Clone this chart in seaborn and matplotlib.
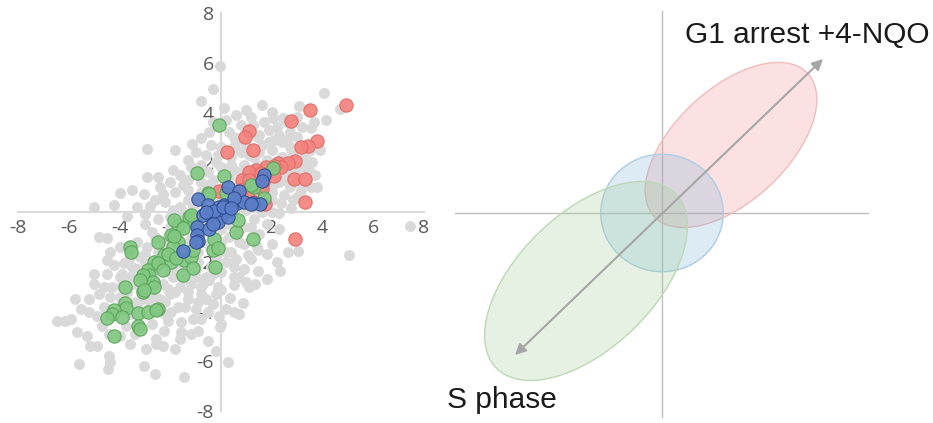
import matplotlib
matplotlib.use('Agg')
import matplotlib.pyplot as plt
from matplotlib.patches import Ellipse
import seaborn as sns

# ------------------------------
# Scatter data
# ------------------------------
gray_x = [-0.04, -0.31, -0.78, 3.06, 4.04, 4.7, 1.6, 2.0,
          -0.47, 0.31, 1.25, 2.04, 2.43, 3.53, 4.12, 3.65, 1.5, 2.7, 3.0, 0.8, 1.9, 2.3,
          -0.78, -1.14, -2.9, -1.29, -0.6, 0.0, 0.6, 1.0, 1.6, 2.0, 2.4, 2.8, 3.3, 3.92, 0.4, 1.3, 1.8, -0.2, -1.0, 2.4, 0.8,
          -1.6, -1.2, -0.5, 0.0, 0.5, 0.9, 1.4, 2.0, 2.6, 3.0, 3.5, -2.0, -1.5, -0.8, -0.3, 0.3, 0.7, 1.2, 1.9, 2.3, 2.7, 3.3, 3.7, -1.0, 0.1, 1.7,
          -4.0, -3.02, -2.27, -5.02, -2.78, -1.8, -1.3, -1.6, -0.8, -0.4, 0.3, 0.8, 1.5, 2.0, 2.35, 2.82, 3.14, 3.53, 2.75, 2.27, -2.2, -1.1, 0.5, 1.0, 1.8, -0.6,
          -3.69, -3.0, -2.5, -2.0, -1.6, -1.3, -0.7, -0.4, 0.3, 0.9, 1.3, 1.8, 2.3, 0.6, -2.7, -1.0, 0.0, 1.5,
          -4.51, -4.39, -4.0, -3.3, -3.0, -2.2, -1.4, -0.9, -0.5, 0.0, 0.4, 0.9, 1.06, 1.45, 2.63, 3.02, 5.06, 7.45, -2.6, -1.8, -0.2, 0.6, -3.6, 2.0,
          -4.51, -3.84, -4.2, -3.3, -2.8, -2.0, -1.5, -1.0, -0.6, -0.47, 0.51, 0.71, 0.51, 1.45, 2.31, 1.33, -5.02, -4.63, -3.92, -2.3, -1.2, 0.0, -0.9, -3.6,
          -5.76, -4.39, -3.7, -3.4, -2.7, -2.2, -1.8, -1.3, -0.8, -0.3, 0.0, 0.35, 0.86, -5.22, -1.96, -2.6, -1.0,
          -6.47, -6.16, -4.12, -3.73, -2.08, -1.57, 0.51, 0.71, -0.08, -0.04, 0.0, -5.69, -5.29, -2.24, -1.57, -0.8, -1.2, -2.7, -4.7,
          -5.18, -4.9, -4.43, -2.94, -2.55, -2.55, -5.61, -4.39, -4.47, -3.02, -2.59, -1.45, 0.27, -3.6, -1.8, -0.5,
          -1.5, -2.0, -0.9, -0.2, 0.6, 1.2, 1.6, 2.0, -3.5, -3.0, -2.5, -2.0, -1.0, -0.5, 0.2, 1.0, 1.5, 2.0, 2.5, 3.0,
          -3.2, -2.8, -3.3, -4.0, -4.6, -1.6, -1.0, -0.4, 0.2, 0.7, -1.4, -2.4, -3.9, 0.4, 1.4, -0.1, 0.9, 1.2, 2.2, 1.8,
          -1.9, -2.1, -0.7, -1.4, -0.5, -0.9, 0.2, -3.3, -4.3, -4.8, -5.2, -4.9, -5.0, -3.6, 3.6, 2.7, 1.9, 1.4, 0.5, -0.4,
          -0.8, -1.3, -2.4, -1.9, -2.6, -3.3, -3.0, -1.9,
          0.2, 0.6, 1.0, 1.2, 1.7, 2.2, 2.6, 3.0, 3.2, 0.5, 1.1, 1.5, 2.1, 2.6, 3.1, 3.5, 3.3, 2.8, 2.2, 1.7,
          1.2, 0.4, -0.1, 0.8, 2.5, 3.0, 3.8, 2.5, 1.4, 0.9, 2.0, 3.0, 0.2, -0.3, -0.5, -1.3, -2.5, -1.8, -0.3, 0.1,
          -1.2, -1.7, -2.3, -2.9, -3.2, -2.6, -1.7, -0.8, -0.3, 0.3, 0.2, -0.3, -0.8, -1.3, -2.0, -2.4, -2.9, -3.5, -4.0, -4.5,
          -3.9, -3.1, -2.2, -1.7, -1.1, -0.6, -0.2, 0.5, 1.0, -1.6, -2.3, -0.9, -3.4, -4.0, -0.2, 1.1, 1.8, -5.5, -5.9, -4.4,
          -4.8, -4.2, -3.5, -2.9]
gray_y = [5.88, 4.96, 4.48, 4.28, 4.8, 4.16, 4.3, 4.0,
          3.2, 3.2, 3.48, 3.76, 3.76, 3.36, 3.68, 3.6, 3.1, 3.2, 3.0, 3.5, 3.3, 3.1,
          2.96, 2.72, 2.52, 2.08, 2.3, 2.6, 2.8, 2.7, 2.7, 2.5, 2.8, 2.4, 2.2, 2.48, 2.2, 2.2, 2.1, 2.0, 2.4, 2.2, 2.4,
          1.5, 1.8, 1.6, 1.8, 1.7, 1.9, 1.9, 1.5, 1.6, 1.7, 1.6, 1.2, 1.1, 1.2, 1.3, 1.4, 1.1, 1.0, 1.1, 1.2, 1.0, 1.2, 1.5, 1.6, 1.1, 1.7,
          0.76, 0.72, 0.72, 0.2, 0.24, 0.8, 0.5, 0.2, 0.8, 0.6, 0.6, 0.7, 0.6, 0.8, 0.36, 0.48, 0.88, 1.0, 0.16, -0.04, 0.4, 0.2, 0.1, 0.1, 0.2, 0.1,
          -0.16, -0.5, -0.3, -0.6, -0.8, -0.4, -0.5, -0.9, -0.5, -0.6, -0.3, -0.5, -0.7, -0.9, -0.8, -0.9, -0.7, -0.9,
          -1.04, -1.6, -1.4, -1.2, -1.7, -1.5, -1.3, -1.6, -1.3, -1.2, -1.6, -1.3, -1.72, -1.52, -1.6, -1.56, -1.72, -0.56, -1.0, -1.9, -1.8, -1.9, -1.8, -1.3,
          -1.92, -2.04, -2.12, -2.3, -2.6, -2.4, -2.7, -2.3, -2.6, -2.72, -2.2, -2.6, -2.92, -2.36, -2.36, -2.88, -2.88, -3.0, -2.92, -2.9, -2.9, -2.4, -2.0, -2.6,
          -3.48, -3.4, -3.2, -3.6, -3.3, -3.6, -3.2, -3.5, -3.3, -3.7, -3.12, -3.44, -3.64, -4.0, -4.04, -3.8, -3.9,
          -4.4, -4.4, -4.12, -4.6, -4.4, -4.44, -4.04, -4.12, -4.2, -4.64, -4.52, -4.84, -5.0, -4.8, -4.84, -4.3, -4.9, -4.5, -4.6,
          -5.4, -5.4, -5.8, -5.52, -5.12, -5.32, -6.12, -6.04, -6.32, -6.2, -6.52, -6.64, -6.04, -5.3, -5.5, -5.2,
          0.0, -0.2, 0.4, 0.5, -0.2, -0.6, 0.0, 0.0, -2.2, -2.0, -1.6, -1.0, -0.3, -0.2, 0.3, 0.9, 1.3, 1.0, 2.0, 2.1,
          -3.0, -3.6, -2.7, -3.4, -3.8, -3.0, -2.6, -2.2, -1.6, -1.2, -2.2, -2.1, -2.5, -0.3, -1.4, -3.0, -2.3, -1.9, -2.0, -1.7,
          -2.6, -3.1, -2.9, -3.8, -4.0, -3.6, -3.9, -3.8, -3.0, -3.3, -3.5, -4.2, -2.5, -4.1, 2.0, 2.6, 2.8, 3.0, 2.6, 2.7,
          1.9, 1.3, 1.0, 1.7, 0.5, 0.2, -0.1, 0.1,
          3.7, 3.9, 4.1, 3.8, 3.6, 3.4, 3.6, 3.8, 3.4, 3.0, 2.3, 2.4, 2.9, 2.9, 2.6, 2.5, 1.8, 1.9, 1.7, 1.3,
          1.6, 1.9, 2.3, 1.6, 1.3, 1.3, 1.0, 0.7, 0.3, 0.5, 0.5, 0.6, 0.9, 0.9, 1.1, 0.9, 1.4, 2.5, 3.6, 4.2,
          -1.0, -1.2, -1.2, -1.4, -1.8, -2.3, -2.3, -1.2, -1.0, -1.0, -2.0, -2.5, -3.0, -3.2, -3.3, -3.5, -3.0, -2.9, -2.6, -2.5,
          -3.7, -3.5, -4.1, -3.8, -4.3, -3.5, -3.3, -2.6, -2.8, -5.1, -5.4, -4.8, -4.9, -5.0, -5.6, -3.0, -2.7, -3.9, -4.3, -4.9,
          -1.0, 0.3, 0.9, 1.4]

red_x = [4.94, 3.49, 2.75, 1.10, 0.94, 0.24, 1.25, 3.80, 3.41, 3.14, 2.90, 2.63, 2.24, 2.35, 2.08, 1.76,
         1.37, 1.10, 0.82, 1.10, 1.65, 2.08, 2.86, 3.33, 1.61, 1.02, -0.08, 1.73, 3.33, 1.57, 2.90, 1.3, 0.8]
red_y = [4.32, 4.12, 3.64, 3.24, 3.0, 2.4, 2.48, 2.84, 2.64, 2.6, 2.04, 1.96, 1.96, 1.8, 1.84, 1.8,
         1.68, 1.6, 1.28, 1.28, 1.2, 1.44, 1.32, 1.32, 0.92, 0.72, 0.84, 0.32, 0.4, 1.56, -1.08, 0.4, 0.9]

green_x = [-0.08, -0.94, -0.51, 0.12, -0.47, 1.29, 1.69, 0.59, 1.25, -0.24, -0.31, 0.67, 0.2, 1.18, 2.04,
           -1.25, -1.06, -1.69, -1.96, -1.69, -2.47, -2.24, -1.96, -2.63, -2.86, -1.45, -1.18, -0.27, -0.12,
           -1.49, -1.1, -1.88, -2.08, -1.76, -2.47, -2.27, -2.82, -3.06, -2.67, -3.2, -2.63, -3.06, -3.8,
           -3.6, -3.8, -3.73, -4.2, -4.31, -4.51, -3.92, -3.29, -2.86, -2.47, -3.29, -3.18, -4.2, -2.55,
           -1.18, -1.84, -1.49, -1.1, -3.54, -3.03, -1.84]
green_y = [3.48, 1.56, 0.76, 1.44, 0.72, 1.0, 0.56, -0.8, -1.08, -2.2, -1.52, -0.32, 0.76, 1.08, 1.76,
           -0.2, -0.44, -0.52, -0.92, -1.2, -1.2, -1.72, -2.0, -2.0, -2.32, -1.92, -1.8, -1.08, -1.44,
           -2.52, -2.24, -1.4, -1.68, -1.84, -2.04, -2.32, -2.52, -2.52, -2.8, -2.72, -3.0, -3.2, -3.0,
           -1.4, -3.64, -3.84, -3.92, -4.12, -4.28, -4.24, -4.08, -4.04, -3.88, -4.6, -4.72, -5.0, -3.92,
           -0.12, -0.32, -0.64, -1.52, -1.6, -3.12, -0.96]

blue_x = [0.27, 0.71, -0.90, -0.51, -0.08, 0.12, 0.39, 0.63, 0.90, 1.25, 1.53, -0.2, 0.27, 0.0, -0.39,
          -0.71, -0.12, 0.27, -0.94, -0.47, -0.94, -0.90, -1.49, 1.69, 1.61, 0.51, 1.18, -0.27, 0.08,
          0.39, -0.6, -0.3, -0.98]
blue_y = [1.0, 0.84, 0.52, 0.28, 0.2, 0.28, 0.28, 0.36, 0.4, 0.36, 0.32, 0.0, 0.08, -0.2, -0.2,
          -0.12, -0.4, -0.2, -0.6, -0.68, -0.92, -1.16, -1.56, 1.48, 1.24, 0.56, 0.32, 0.04, 0.2,
          0.16, 0.0, -0.5, -1.2]

axis_ticks = [-8, -6, -4, -2, 2, 4, 6, 8]

# ------------------------------
# Schematic (right panel): ellipses and arrow
# ------------------------------
ell_names = ['G1 arrest', 'asynchronous', 'S phase']
ell_cx = [2.76, 0.0, -3.04]
ell_cy = [2.72, 0.0, -2.72]
ell_w = [8.4, 4.9, 10.0]
ell_h = [4.5, 4.7, 5.4]
ell_angle = [43, 0, 44]
ell_face = ['#f28b8b', '#7fb3d9', '#9fcc95']
ell_edge = ['#efbcbc', '#aecde4', '#bcd8b5']

arrow_start = (-5.88, -5.68)
arrow_end = (6.44, 6.16)

sns.set_style('white')
plt.rcParams['font.family'] = ['Open Sans', 'DejaVu Sans']

fig = plt.figure(figsize=(9.33, 4.23), dpi=100)

# Left: scatter with axes crossing at zero
ax = fig.add_axes([18 / 933, 12 / 423, 406 / 933, 398 / 423])
sns.scatterplot(x=gray_x, y=gray_y, color='#d9d9d9', s=62, linewidth=0, ax=ax, zorder=3)
groups = [(red_x, red_y, '#f4827e', '#e06a66'),
          (green_x, green_y, '#82c882', '#5aa35a'),
          (blue_x, blue_y, '#5b7ec8', '#2f4d8f')]
for gx, gy, fc, ec in groups:
    sns.scatterplot(x=gx, y=gy, color=fc, edgecolor=ec, s=92, linewidth=0.8,
                    alpha=0.92, ax=ax, zorder=4)

ax.set_xlim(-8, 8)
ax.set_ylim(-8, 8)
for side in ['top', 'right']:
    ax.spines[side].set_visible(False)
for side in ['left', 'bottom']:
    ax.spines[side].set_position(('data', 0))
    ax.spines[side].set_color('#d9d9d9')
    ax.spines[side].set_linewidth(1.5)
ax.set_xticks(axis_ticks)
ax.set_yticks(axis_ticks)
ax.set_xticklabels([str(t) for t in axis_ticks])
ax.set_yticklabels([str(t) for t in axis_ticks])
ax.tick_params(length=0, labelsize=14, colors='#595959', pad=5)
ax.patch.set_alpha(0)

# Right: schematic
ax2 = fig.add_axes([454.5 / 933, 2.5 / 423, 415 / 933, 415 / 423])
ax2.set_xlim(-8.3, 8.3)
ax2.set_ylim(-8.3, 8.3)
for side in ['top', 'right']:
    ax2.spines[side].set_visible(False)
for side in ['left', 'bottom']:
    ax2.spines[side].set_position(('data', 0))
    ax2.spines[side].set_color('#bfbfbf')
    ax2.spines[side].set_linewidth(1.0)
ax2.spines['left'].set_bounds(-8.16, 8.08)
ax2.spines['bottom'].set_bounds(-8.28, 8.24)
ax2.set_xticks([])
ax2.set_yticks([])
ax2.patch.set_alpha(0)

for i in range(len(ell_names)):
    e = Ellipse((ell_cx[i], ell_cy[i]), ell_w[i], ell_h[i], angle=ell_angle[i],
                facecolor=matplotlib.colors.to_rgba(ell_face[i], 0.26),
                edgecolor=ell_edge[i], linewidth=1.0, zorder=3)
    ax2.add_patch(e)

ax2.annotate('', xy=arrow_end, xytext=arrow_start,
             arrowprops=dict(arrowstyle='<|-|>', color='#a6a6a6', lw=1.5,
                             mutation_scale=16, shrinkA=0, shrinkB=0), zorder=4)

ax2.text(0.92, 7.12, 'G1 arrest +4-NQO', fontsize=21.5, family='Liberation Sans',
         color='#1a1a1a', ha='left', va='center', clip_on=False)
ax2.text(-8.6, -7.5, 'S phase', fontsize=21.5, family='Liberation Sans',
         color='#1a1a1a', ha='left', va='center', clip_on=False)

fig.savefig('out.png', dpi=100)
